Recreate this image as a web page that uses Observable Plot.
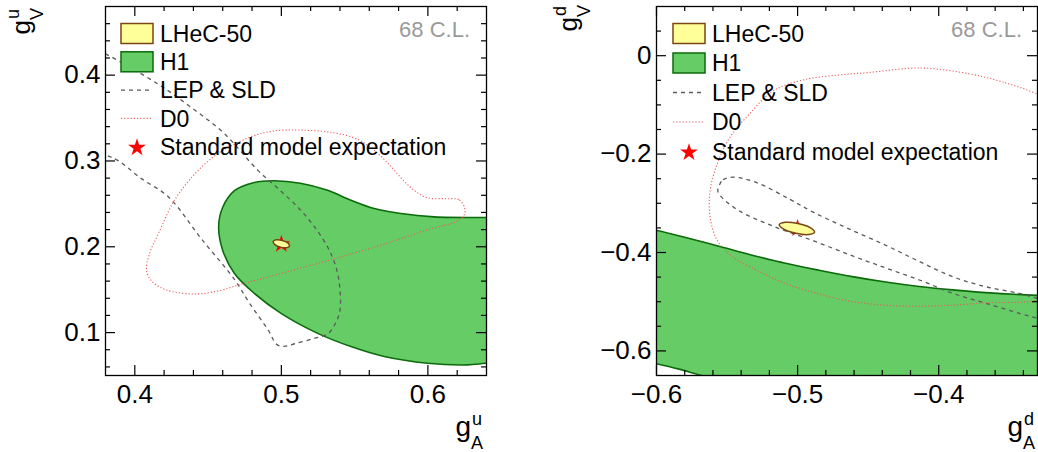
<!DOCTYPE html>
<html><head><meta charset="utf-8">
<script src="https://cdn.jsdelivr.net/npm/d3@7"></script>
<script src="https://cdn.jsdelivr.net/npm/@observablehq/plot@0.6"></script>
<style>
body{margin:0;background:#fff;font-family:"Liberation Sans",Arial,Helvetica,sans-serif}
#wrap{position:relative;width:1038px;height:452px;display:flex}
.panel{position:relative;width:519px;height:452px}
.panel svg.overlay{position:absolute;left:0;top:0;pointer-events:none}
</style></head><body><div id="wrap"></div>
<script>
// ---------- legend ----------
const legendLabels = ["LHeC-50", "H1", "LEP & SLD", "D0", "Standard model expectation"];
const clText = "68 C.L.";

// ---------- up-quark panel ----------
const uXDomain = [0.38, 0.64];
const uYDomain = [0.05, 0.48];
const uXTicks = [0.4, 0.5, 0.6];
const uYTicks = [0.1, 0.2, 0.3, 0.4];
const uXMinor = [0.42, 0.44, 0.46, 0.48, 0.52, 0.54, 0.56, 0.58, 0.62];
const uYMinor = [0.06, 0.08, 0.12, 0.14, 0.16, 0.18, 0.22, 0.24, 0.26, 0.28, 0.32, 0.34, 0.36, 0.38, 0.42, 0.44, 0.46];
const uH1 = [[0.66,0.2341],[0.640,0.2341],[0.6043,0.2349],[0.5816,0.2387],[0.5634,0.2445],[0.5475,0.2542],[0.5316,0.2658],[0.513,0.274],[0.4952,0.277],[0.4816,0.275],[0.468,0.2654],[0.460,0.2461],[0.4572,0.2236],[0.460,0.1958],[0.468,0.1688],[0.4816,0.1456],[0.4998,0.1224],[0.5248,0.0991],[0.5475,0.0837],[0.5702,0.0721],[0.5998,0.0643],[0.627,0.0624],[0.640,0.0643],[0.66,0.066]];
const uLEP = [[0.36,0.44],[0.38,0.4248],[0.4155,0.390],[0.438,0.363],[0.461,0.332],[0.484,0.289],[0.499,0.266],[0.513,0.243],[0.524,0.220],[0.533,0.195],[0.538,0.172],[0.540,0.150],[0.540,0.126],[0.537,0.111],[0.532,0.099],[0.522,0.093],[0.509,0.087],[0.502,0.084],[0.497,0.086],[0.491,0.103],[0.478,0.135],[0.468,0.162],[0.446,0.208],[0.423,0.258],[0.404,0.280],[0.389,0.300],[0.38,0.3068],[0.36,0.316]];
const uD0 = [[0.625,0.246],[0.621,0.255],[0.612,0.256],[0.600,0.257],[0.592,0.264],[0.584,0.276],[0.574,0.295],[0.563,0.313],[0.551,0.326],[0.535,0.333],[0.513,0.336],[0.495,0.335],[0.479,0.328],[0.457,0.309],[0.441,0.285],[0.427,0.254],[0.416,0.215],[0.410,0.192],[0.408,0.173],[0.411,0.161],[0.421,0.150],[0.441,0.145],[0.458,0.149],[0.470,0.155],[0.500,0.169],[0.536,0.186],[0.570,0.203],[0.600,0.220],[0.620,0.230],[0.625,0.238]];
const uLHeC = [[0.5056,0.2009],[0.5035,0.1989],[0.4994,0.1996],[0.4956,0.2025],[0.4944,0.2061],[0.4965,0.2081],[0.5006,0.2074],[0.5044,0.2045]];
const uSM = [[0.5, 0.203]];

// ---------- down-quark panel ----------
const dXDomain = [-0.6, -0.33];
const dYDomain = [-0.65, 0.1];
const dXTicks = [-0.6, -0.5, -0.4];
const dYTicks = [-0.6, -0.4, -0.2, 0];
const dXMinor = [-0.58, -0.56, -0.54, -0.52, -0.48, -0.46, -0.44, -0.42, -0.38, -0.36, -0.34];
const dYMinor = [-0.55, -0.5, -0.45, -0.35, -0.3, -0.25, -0.15, -0.1, -0.05, 0.05];
const dH1 = [[-0.62,-0.343],[-0.6005,-0.3547],[-0.5794,-0.3696],[-0.5558,-0.3872],[-0.5322,-0.4054],[-0.5085,-0.4220],[-0.4849,-0.436],[-0.4612,-0.449],[-0.4376,-0.460],[-0.4139,-0.469],[-0.3903,-0.476],[-0.3667,-0.4815],[-0.33,-0.4872],[-0.31,-0.489],[-0.31,-0.75],[-0.55,-0.662],[-0.568,-0.650],[-0.584,-0.637],[-0.600,-0.626],[-0.62,-0.614]];
const dLEP = [[-0.5556,-0.264],[-0.5528,-0.252],[-0.5457,-0.247],[-0.529,-0.258],[-0.5055,-0.292],[-0.489,-0.318],[-0.4652,-0.350],[-0.437,-0.386],[-0.4132,-0.419],[-0.3896,-0.4497],[-0.366,-0.470],[-0.3423,-0.4834],[-0.3296,-0.4935],[-0.30,-0.51],[-0.30,-0.56],[-0.3296,-0.534],[-0.3423,-0.524],[-0.366,-0.5037],[-0.3896,-0.4834],[-0.4132,-0.4564],[-0.437,-0.432],[-0.461,-0.407],[-0.489,-0.376],[-0.517,-0.347],[-0.541,-0.316],[-0.553,-0.290],[-0.5565,-0.276]];
const dD0 = [[-0.330,-0.078],[-0.354,-0.054],[-0.378,-0.037],[-0.413,-0.025],[-0.449,-0.034],[-0.470,-0.039],[-0.494,-0.048],[-0.517,-0.071],[-0.534,-0.118],[-0.548,-0.166],[-0.557,-0.220],[-0.562,-0.274],[-0.562,-0.328],[-0.557,-0.375],[-0.546,-0.409],[-0.529,-0.436],[-0.5085,-0.463],[-0.485,-0.484],[-0.461,-0.500],[-0.425,-0.509],[-0.390,-0.507],[-0.366,-0.502],[-0.330,-0.497],[-0.30,-0.46],[-0.29,-0.30],[-0.30,-0.12]];
const dLHeC = [[-0.4880,-0.3585],[-0.4922,-0.3634],[-0.5012,-0.3609],[-0.5099,-0.3526],[-0.5130,-0.3435],[-0.5088,-0.3386],[-0.4998,-0.3411],[-0.4911,-0.3494]];
const dSM = [[-0.5, -0.351]];

// ---------- styles ----------
const FONT = '"Liberation Sans", Arial, Helvetica, sans-serif';
const GREEN = "#66cc66", DKGREEN = "#0b6b0b", YELLOW = "#ffff99", BROWN = "#7a4514";
const LEPC = "#5a5a5a", D0C = "#ee5a5a";
const STAR_R = 5.6;

const fmtU = d3.format(".1f");
const fmtD = d => Math.abs(d) < 1e-9 ? "0" : d3.format(".1f")(d);

function makePanel(c) {
  const W = 519, H = 452;
  const fw = W - c.ml - c.mr, fh = H - c.mt - c.mb;
  const xy = {x: d => d[0], y: d => d[1]};
  const tickMarks = [
    Plot.tickX(c.xTicks, {insetTop: fh - 10, stroke: "black", strokeWidth: 1.2}),
    Plot.tickX(c.xTicks, {insetBottom: fh - 10, stroke: "black", strokeWidth: 1.2}),
    Plot.tickX(c.xMinor, {insetTop: fh - 5, stroke: "black", strokeWidth: 1.2}),
    Plot.tickX(c.xMinor, {insetBottom: fh - 5, stroke: "black", strokeWidth: 1.2}),
    Plot.tickY(c.yTicks, {insetRight: fw - 10, stroke: "black", strokeWidth: 1.2}),
    Plot.tickY(c.yTicks, {insetLeft: fw - 10, stroke: "black", strokeWidth: 1.2}),
    Plot.tickY(c.yMinor, {insetRight: fw - 5, stroke: "black", strokeWidth: 1.2}),
    Plot.tickY(c.yMinor, {insetLeft: fw - 5, stroke: "black", strokeWidth: 1.2})
  ];
  const svg = Plot.plot({
    width: W, height: H,
    marginLeft: c.ml, marginRight: c.mr, marginTop: c.mt, marginBottom: c.mb,
    style: {fontFamily: FONT, fontSize: "26px", background: "white", color: "black", overflow: "visible"},
    x: {domain: c.xDomain, ticks: c.xTicks, tickSize: 0, tickPadding: 9, tickFormat: c.fmt, label: null},
    y: {domain: c.yDomain, ticks: c.yTicks, tickSize: 0, tickPadding: 5, tickFormat: c.fmt, label: null},
    marks: [
      Plot.line(c.h1, {...xy, curve: "catmull-rom-closed", fill: GREEN, stroke: DKGREEN, strokeWidth: 1.6, clip: true}),
      Plot.line(c.lep, {...xy, curve: "catmull-rom-closed", stroke: LEPC, strokeWidth: 1.3, strokeDasharray: "4,4", strokeLinecap: "butt", clip: true}),
      Plot.line(c.d0, {...xy, curve: "catmull-rom-closed", stroke: D0C, strokeWidth: 1.1, strokeDasharray: "1.2,2", strokeLinecap: "butt", clip: true}),
      Plot.dot(c.sm, {...xy, symbol: "star", fill: "red", r: STAR_R}),
      Plot.line(c.lhec, {...xy, curve: "catmull-rom-closed", fill: YELLOW, stroke: BROWN, strokeWidth: 1.5}),
      ...tickMarks,
      Plot.frame({stroke: "black", strokeWidth: 1.3})
    ]
  });
  const div = document.createElement("div");
  div.className = "panel";
  div.appendChild(svg);
  document.getElementById("wrap").appendChild(div);

  // overlay: legend, CL text, axis titles
  const ov = d3.select(div).append("svg").attr("class", "overlay")
    .attr("width", W).attr("height", H).style("font-family", FONT);
  const L = c.legend;
  legendLabels.forEach((lab, i) => {
    const yc = L.y0 + i * L.dy;
    const g = ov.append("g");
    if (i === 0) g.append("rect").attr("x", L.bx).attr("y", yc - 10).attr("width", 32).attr("height", 20)
      .attr("fill", YELLOW).attr("stroke", BROWN).attr("stroke-width", 1.5);
    if (i === 1) g.append("rect").attr("x", L.bx).attr("y", yc - 10).attr("width", 32).attr("height", 20)
      .attr("fill", GREEN).attr("stroke", DKGREEN).attr("stroke-width", 1.5);
    if (i === 2) g.append("line").attr("x1", L.bx).attr("x2", L.bx + 32).attr("y1", yc).attr("y2", yc)
      .attr("stroke", LEPC).attr("stroke-width", 1.3).attr("stroke-dasharray", "4,4");
    if (i === 3) g.append("line").attr("x1", L.bx).attr("x2", L.bx + 32).attr("y1", yc).attr("y2", yc)
      .attr("stroke", D0C).attr("stroke-width", 1.1).attr("stroke-dasharray", "1.2,2");
    if (i === 4) g.append("path").attr("d", d3.symbol(d3.symbolStar, Math.PI * STAR_R * STAR_R)())
      .attr("transform", `translate(${L.bx + 16},${yc + 1})`).attr("fill", "red");
    g.append("text").attr("x", L.tx).attr("y", yc).attr("dy", "0.36em")
      .attr("font-size", 23).attr("fill", "black").text(lab);
  });
  ov.append("text").attr("x", c.clX).attr("y", 29).attr("dy", "0.36em").attr("text-anchor", "end")
    .attr("font-size", 22).attr("fill", "#9a9a9a").text(clText);

  // x axis title
  const xt = ov.append("g");
  xt.append("text").attr("x", c.xtX).attr("y", 436).attr("text-anchor", "end").attr("font-size", 28).text("g");
  xt.append("text").attr("x", c.xtX + 1).attr("y", 425).attr("font-size", 18).text(c.q);
  xt.append("text").attr("x", c.xtX).attr("y", 449).attr("font-size", 18).text("A");
  // y axis title (rotated)
  const yt = ov.append("g").attr("transform", `translate(${c.ytX},${c.ytY}) rotate(-90)`);
  yt.append("text").attr("x", 0).attr("y", 0).attr("text-anchor", "end").attr("font-size", 26).text("g");
  yt.append("text").attr("x", 1).attr("y", -11).attr("font-size", 18).text(c.q);
  yt.append("text").attr("x", 0).attr("y", 13).attr("font-size", 18).text("V");
}

makePanel({
  ml: 105, mr: 33, mt: 6, mb: 77,
  xDomain: uXDomain, yDomain: uYDomain, xTicks: uXTicks, yTicks: uYTicks, xMinor: uXMinor, yMinor: uYMinor,
  fmt: fmtU, h1: uH1, lep: uLEP, d0: uD0, lhec: uLHeC, sm: uSM,
  legend: {bx: 121, tx: 160, y0: 33.5, dy: 28.3},
  clX: 470, xtX: 471, q: "u", ytX: 30, ytY: 20
});
makePanel({
  ml: 137, mr: 1, mt: 6, mb: 77,
  xDomain: dXDomain, yDomain: dYDomain, xTicks: dXTicks, yTicks: dYTicks, xMinor: dXMinor, yMinor: dYMinor,
  fmt: fmtD, h1: dH1, lep: dLEP, d0: dD0, lhec: dLHeC, sm: dSM,
  legend: {bx: 154, tx: 193, y0: 33.5, dy: 29.5},
  clX: 503, xtX: 504, q: "d", ytX: 58, ytY: 17
});
</script></body></html>
